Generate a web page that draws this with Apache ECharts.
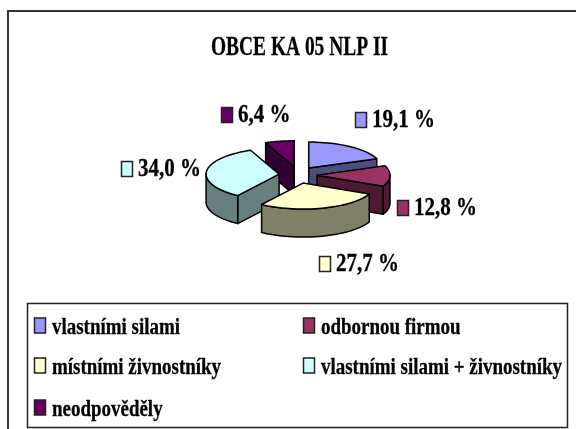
<!DOCTYPE html>
<html>
<head>
<meta charset="utf-8">
<style>
  html, body { margin: 0; padding: 0; background: #fff; }
  #chart { width: 576px; height: 429px; }
</style>
<script src="https://cdn.jsdelivr.net/npm/echarts@6/dist/echarts.min.js"></script>
</head>
<body>
<div id="chart"></div>
<script>
// data
var categories = ['vlastními silami', 'odbornou firmou', 'místními živnostníky', 'vlastními silami + živnostníky', 'neodpověděly']
var shares = [19.1, 12.8, 27.7, 34.0, 6.4]
var topColors = ['#9999ff', '#993366', '#ffffcc', '#ccffff', '#660066']
var sideColors = ['#4d4d80', '#4d1a33', '#808066', '#668080', '#330033']
// back to front
var drawOrder = [4, 0, 3, 1, 2]

var FONT = '"Liberation Serif", serif'
var cx = 298, cy = 175, rx = 73, ry = 26, depth = 28, explodeX = 19, explodeY = 8.4
var sum = shares.reduce(function (a, b) { return a + b }, 0)

// start angle of every slice, clockwise from the top
var starts = []
shares.reduce(function (acc, v, i) { starts[i] = acc; return acc + v / sum * 360 }, 0)

function rim(ox, oy, deg) {
  var r = deg * Math.PI / 180
  return [ox + rx * Math.sin(r), oy - ry * Math.cos(r)]
}
function arcPoints(ox, oy, a0, a1) {
  var pts = []
  var n = Math.max(2, Math.ceil((a1 - a0) / 3))
  for (var k = 0; k <= n; k++) pts.push(rim(ox, oy, a0 + (a1 - a0) * k / n))
  return pts
}
function face(points, fill) {
  return {
    type: 'polygon',
    shape: { points: points },
    style: { fill: fill, stroke: '#000', lineWidth: 1.5, lineJoin: 'round' }
  }
}
function drop(p) { return [p[0], p[1] + depth] }

function renderSlice(params, api) {
  var i = drawOrder[params.dataIndex]
  var a0 = starts[i]
  var a1 = a0 + api.value(0) / sum * 360
  var mid = (a0 + a1) / 2 * Math.PI / 180
  var ox = cx + explodeX * Math.sin(mid)
  var oy = cy - explodeY * Math.cos(mid)
  var apex = [ox, oy]
  var top = arcPoints(ox, oy, a0, a1)
  var children = []

  // cut faces, only the ones turned to the viewer
  var first = top[0], last = top[top.length - 1]
  if (Math.sin(a0 * Math.PI / 180) < 0) children.push(face([apex, first, drop(first), drop(apex)], sideColors[i]))
  if (Math.sin(a1 * Math.PI / 180) > 0) children.push(face([apex, last, drop(last), drop(apex)], sideColors[i]))

  // curved wall, front half only
  var f0 = Math.max(a0, 90), f1 = Math.min(a1, 270)
  if (f1 > f0) {
    var front = arcPoints(ox, oy, f0, f1)
    children.push(face(front.concat(front.map(drop).reverse()), sideColors[i]))
  }
  // top surface
  children.push(face([apex].concat(top), topColors[i]))
  return { type: 'group', children: children }
}

function txt(text, x, y, size, scaleX, align) {
  return {
    type: 'text', x: x, y: y, scaleX: scaleX, originX: 0, originY: 0, silent: true,
    style: {
      text: text, x: 0, y: 0, fill: '#000', stroke: '#000', lineWidth: 0.3,
      font: 'bold ' + size + 'px ' + FONT, align: align || 'left', verticalAlign: 'middle'
    }
  }
}
function swatch(x, y, color) {
  return {
    type: 'rect', silent: true,
    shape: { x: x, y: y, width: 11, height: 15 },
    style: { fill: color, stroke: '#222', lineWidth: 1.5 }
  }
}

// data labels, swatch position per slice
var labelPos = [[355.5, 112.5], [397.5, 200.5], [319.5, 256.5], [121.5, 161.5], [221.5, 107.5]]
var labelEls = []
shares.forEach(function (v, i) {
  var p = labelPos[i]
  labelEls.push(swatch(p[0], p[1], topColors[i]))
  labelEls.push(txt(v.toFixed(1).replace('.', ',') + ' %', p[0] + 16.5, p[1] + 8.5, 25, 0.84))
})

// legend, three rows in two columns
var legendX = [34.5, 303.5], legendY = [326, 366, 408]
var legendEls = []
categories.forEach(function (name, i) {
  var x = legendX[i % 2], y = legendY[Math.floor(i / 2)]
  legendEls.push(swatch(x, y - 8, topColors[i]))
  legendEls.push(txt(name, x + 17.5, y + 2, 24, 0.79))
})

var chart = echarts.init(document.getElementById('chart'), null, { renderer: 'canvas' })
chart.setOption({
  backgroundColor: '#fff',
  animation: false,
  graphic: [
    { type: 'rect', silent: true, z: -1, shape: { x: 8, y: 11, width: 620, height: 460 }, style: { fill: '#fff', stroke: '#333', lineWidth: 2 } },
    { type: 'rect', silent: true, shape: { x: 27.5, y: 303.5, width: 540, height: 124 }, style: { fill: '#fff', stroke: '#222', lineWidth: 1.5 } },
    txt('OBCE KA 05 NLP II', 299.5, 48, 27, 0.72, 'center')
  ].concat(labelEls, legendEls),
  series: [{
    type: 'custom',
    coordinateSystem: 'none',
    silent: true,
    renderItem: renderSlice,
    data: drawOrder.map(function (i) { return [shares[i]] })
  }]
})
</script>
</body>
</html>
